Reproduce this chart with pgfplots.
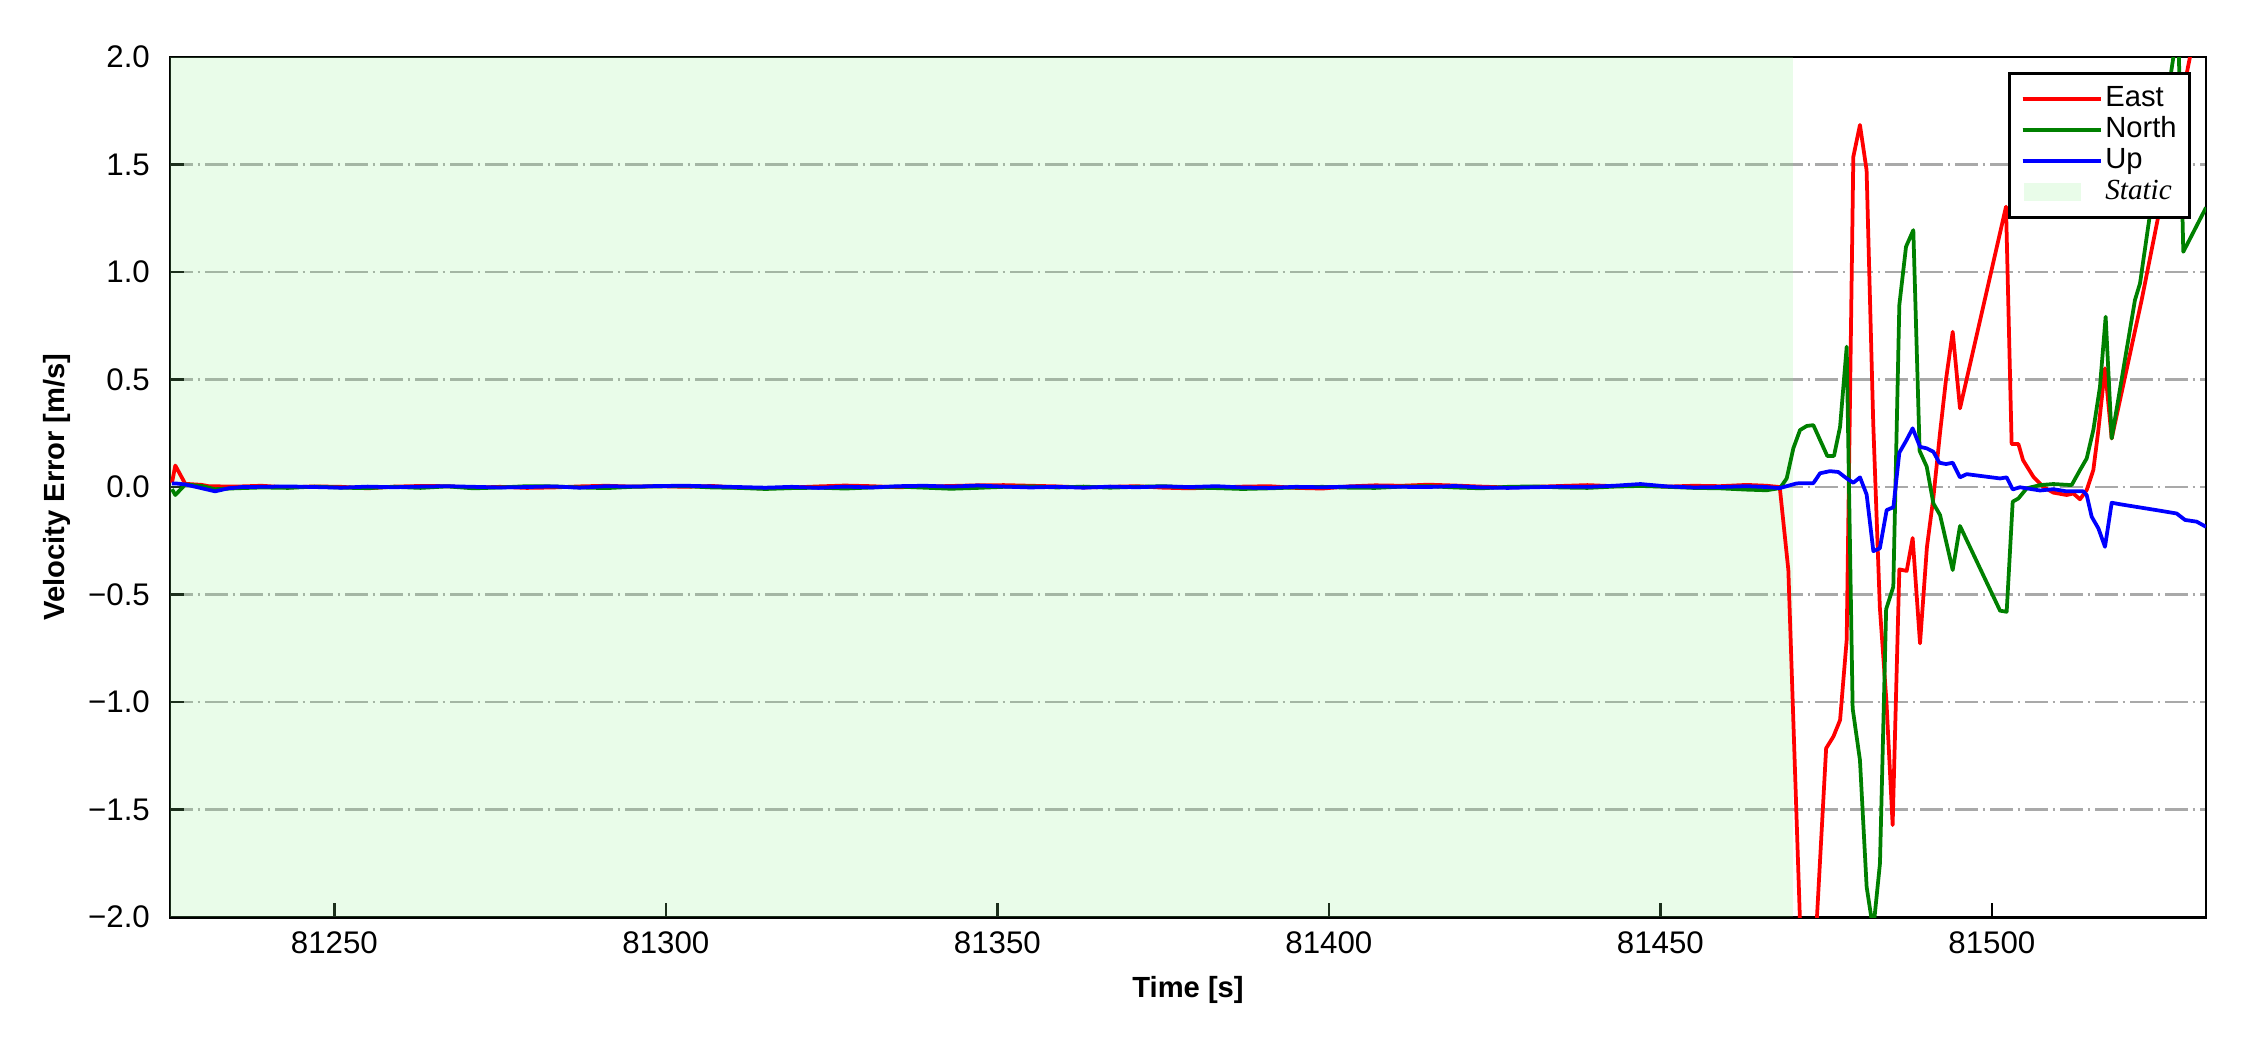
\documentclass[border=0pt]{standalone}
\usepackage{fontspec}
\setmainfont{Liberation Sans}
\newfontfamily\serifit{Liberation Serif}
\usepackage{pgfplots}
\usepackage{pgfplotstable}
\pgfplotsset{compat=1.18}
\definecolor{eastc}{RGB}{255,0,0}
\definecolor{northc}{RGB}{0,128,0}
\definecolor{upc}{RGB}{0,0,255}
\definecolor{lgreen}{RGB}{144,238,144}
\definecolor{staticc}{RGB}{233,252,233}
\definecolor{gridc}{RGB}{169,169,169}
\pgfplotsset{
  myline/.style={legend image code/.code={\draw[##1] (0pt,0pt) -- (14.4pt,0pt); \path (0pt,0pt) -- (18.9pt,0pt);}},
  mystatic/.style={legend image code/.code={\fill[staticc] (0.3pt,-2.2pt) rectangle (14.1pt,2.2pt); \path (0pt,0pt) -- (18.9pt,0pt);}},
}

\pgfplotstableread{
t v
81225.5 0.02
81226.0 0.10
81227.5 0.015
81230 0.01
81231 0.004
81235 0.002
81239 0.006
81243 -0.002
81247 0.003
81251 0.001
81255 -0.006
81259 0.002
81263 0.005
81267 0.004
81271 -0.003
81275 0.001
81279 -0.004
81283 -0.002
81287 0.003
81291 0.006
81295 0.002
81299 0.004
81303 0.001
81307 0.005
81311 -0.003
81315 -0.006
81319 -0.002
81323 0.003
81327 0.007
81331 0.004
81335 -0.001
81339 0.002
81343 0.005
81347 0.008
81351 0.009
81355 0.006
81359 0.003
81363 -0.002
81367 0.001
81371 0.004
81375 -0.003
81379 -0.006
81383 -0.002
81387 0.002
81391 0.004
81395 -0.004
81399 -0.007
81403 0.003
81407 0.008
81411 0.006
81415 0.011
81419 0.007
81423 0.002
81427 -0.002
81431 0.001
81435 0.005
81439 0.009
81443 0.004
81447 0.007
81451 0.002
81455 0.006
81459 0.004
81463 0.010
81466 0.006
81468.0 0.0
81469.3 -0.386
81472.0 -2.9
81473.0 -2.35
81475.0 -1.215
81476.1 -1.16
81477.1 -1.084
81478.1 -0.71
81479.1 1.536
81480.1 1.684
81481.1 1.474
81482.1 0.3
81483.1 -0.56
81484.1 -1.0
81485.03 -1.572
81486.04 -0.383
81487.15 -0.39
81488.05 -0.237
81489.16 -0.727
81490.2 -0.28
81491.17 -0.05
81492.17 0.25
81493.08 0.5
81494.09 0.722
81495.19 0.366
81502.13 1.304
81502.98 0.2
81504.0 0.2
81504.7 0.125
81506.25 0.048
81507.76 0.0
81509.27 -0.026
81511.28 -0.037
81512.29 -0.03
81513.29 -0.057
81514.3 -0.014
81515.3 0.079
81516.06 0.265
81517.06 0.552
81518.07 0.226
81522.59 0.87
81529.88 2.0
81531.0 2.2
}\eastdata

\pgfplotstableread{
t v
81225.5 -0.01
81226.0 -0.037
81227.5 0.012
81230 0.005
81232 -0.01
81235 -0.006
81239 -0.002
81243 -0.004
81247 0.002
81251 -0.003
81255 -0.005
81259 0.001
81263 -0.004
81267 0.003
81271 -0.006
81275 -0.002
81279 0.004
81283 0.003
81287 -0.002
81291 -0.005
81295 0.001
81299 0.003
81303 0.004
81307 -0.002
81311 -0.004
81315 -0.009
81319 -0.005
81323 -0.003
81327 -0.007
81331 -0.002
81335 0.002
81339 -0.003
81343 -0.008
81347 -0.004
81351 0.001
81355 0.003
81359 -0.002
81363 0.002
81367 -0.003
81371 0.001
81375 0.004
81379 -0.002
81383 -0.005
81387 -0.009
81391 -0.006
81395 -0.002
81399 0.001
81403 -0.003
81407 -0.004
81411 0.002
81415 0.004
81419 -0.002
81423 -0.006
81427 0.001
81431 0.003
81435 -0.002
81439 -0.004
81443 0.002
81447 0.005
81451 0.001
81455 -0.004
81459 -0.006
81463 -0.012
81466 -0.015
81467 -0.01
81468.04 -0.005
81469.05 0.04
81470.05 0.18
81471.06 0.265
81472.07 0.284
81473.07 0.288
81475.18 0.144
81476.19 0.145
81477.1 0.28
81478.1 0.653
81479.0 -1.03
81480.1 -1.27
81481.11 -1.86
81482.1 -2.06
81483.12 -1.75
81484.05 -0.568
81485.13 -0.464
81486.04 0.847
81487.05 1.118
81488.15 1.195
81489.1 0.168
81490.17 0.095
81491.17 -0.076
81492.18 -0.13
81494.09 -0.386
81495.19 -0.181
81501.23 -0.575
81502.23 -0.58
81503.14 -0.068
81504.0 -0.053
81505.25 -0.006
81507.26 0.009
81509.27 0.014
81512.03 0.009
81513.29 0.079
81514.3 0.133
81515.3 0.265
81516.3 0.466
81517.16 0.792
81518.07 0.226
81521.58 0.87
81522.34 0.947
81523.85 1.27
81528.1 2.15
81528.87 1.094
81532.3 1.30
}\northdata

\pgfplotstableread{
t v
81225.5 0.017
81226.0 0.017
81227.5 0.012
81229.5 -0.002
81232 -0.02
81234 -0.006
81236 0.0
81239 0.001
81243 0.003
81247 0.0
81251 -0.003
81255 0.002
81259 -0.001
81263 0.002
81267 0.004
81271 0.001
81275 -0.002
81279 0.0
81283 0.003
81287 -0.003
81291 0.004
81295 0.002
81299 0.005
81303 0.006
81307 0.003
81311 0.0
81315 -0.003
81319 0.001
81323 -0.004
81327 0.002
81331 -0.002
81335 0.004
81339 0.006
81343 0.002
81347 0.007
81351 0.002
81355 -0.002
81359 0.001
81363 -0.003
81367 0.002
81371 -0.001
81375 0.003
81379 0.0
81383 0.004
81387 -0.002
81391 -0.004
81395 0.001
81399 -0.001
81403 0.002
81407 0.003
81411 0.001
81415 0.0
81419 0.005
81423 -0.002
81427 -0.004
81431 -0.001
81435 0.002
81439 0.001
81443 0.006
81447 0.014
81451 0.003
81455 -0.002
81459 0.0
81463 0.004
81466 0.0
81468 -0.005
81470.56 0.017
81473.07 0.018
81474.08 0.064
81475.58 0.074
81476.84 0.07
81478.1 0.04
81479.1 0.02
81480.11 0.045
81481.11 -0.035
81482.12 -0.298
81483.1 -0.285
81484.13 -0.107
81485.14 -0.094
81486.04 0.16
81487.15 0.22
81488.05 0.273
81489.16 0.187
81490.17 0.18
81491.17 0.164
81492.08 0.113
81493.08 0.107
81494.09 0.113
81495.19 0.045
81496.2 0.06
81499.21 0.048
81501.23 0.04
81502.23 0.045
81503.14 -0.011
81504.24 -0.001
81507.26 -0.016
81509.27 -0.01
81511.28 -0.02
81513.79 -0.02
81514.3 -0.037
81515.05 -0.138
81516.06 -0.192
81517.06 -0.278
81518.07 -0.073
81519.33 -0.08
81522.34 -0.095
81525.36 -0.11
81527.87 -0.123
81529.13 -0.153
81530.89 -0.161
81532.3 -0.185
}\updata

\pgfplotstableread{
t v
81225.2 -2
81470.0 -2
81470.0 2
81225.2 2
81225.2 -2
}\staticdata

\begin{document}
\begin{tikzpicture}
\path[use as bounding box] (-40.8pt,-31.92pt) rectangle (499.16pt,220.08pt);
\begin{axis}[
  at={(0,0)}, anchor=south west,
  width=488.6pt, height=206.4pt, scale only axis,
  xmin=81225.2, xmax=81532.3, ymin=-2, ymax=2,
  scaled x ticks=false, scaled y ticks=false,
  xtick={81250,81300,81350,81400,81450,81500},
  xticklabels={81250,81300,81350,81400,81450,81500},
  ytick={-2,-1.5,-1,-0.5,0,0.5,1,1.5,2},
  yticklabels={−2.0,−1.5,−1.0,−0.5,0.0,0.5,1.0,1.5,2.0},
  tick align=inside,
  xtick pos=left, ytick pos=left,
  major tick length=3.4pt,
  tick style={black, line width=0.6pt},
  axis line style={black, line width=0.7pt},
  ticklabel style={font=\fontsize{7.5}{9}\selectfont},
  yticklabel style={xshift=-1.3pt},
  ymajorgrids,
  grid style={gridc, line width=0.6pt, dash pattern=on 5.4pt off 1.2pt on 0.6pt off 1.2pt},
  xlabel={\textbf{Time [s]}},
  ylabel={\textbf{Velocity Error [m/s]}},
  xlabel style={font=\fontsize{7}{8}\selectfont, at={(axis description cs:0.5,0)}, anchor=center, yshift=-17.5pt},
  ylabel style={font=\fontsize{7}{8}\selectfont, at={(axis description cs:0,0.5)}, anchor=center, yshift=27.2pt},
  legend cell align=left,
  legend style={at={(1,1)}, anchor=north east, xshift=-3.6pt, yshift=-3.6pt,
    draw=black, line width=0.7pt, fill=white,
    font=\fontsize{7}{8}\selectfont,
    inner xsep=2.6pt, inner ysep=2.5pt, row sep=0pt,
    nodes={inner sep=0.5pt, text height=5pt, text depth=1.4pt}},
]
\addplot[fill=lgreen, fill opacity=0.2, draw=none, forget plot]
  table[x=t,y=v] {\staticdata} -- cycle;
\addplot[eastc, line width=0.9pt, line join=round, myline] table[x=t,y=v] {\eastdata};
\addlegendentry{East}
\addplot[northc, line width=0.9pt, line join=round, myline] table[x=t,y=v] {\northdata};
\addlegendentry{North}
\addplot[upc, line width=0.9pt, line join=round, myline] table[x=t,y=v] {\updata};
\addlegendentry{Up}
\addplot[draw=none, fill=none, mystatic] table[x=t,y=v] {\staticdata};
\addlegendentry{{\serifit\itshape Static}}
\end{axis}
\end{tikzpicture}
\end{document}
